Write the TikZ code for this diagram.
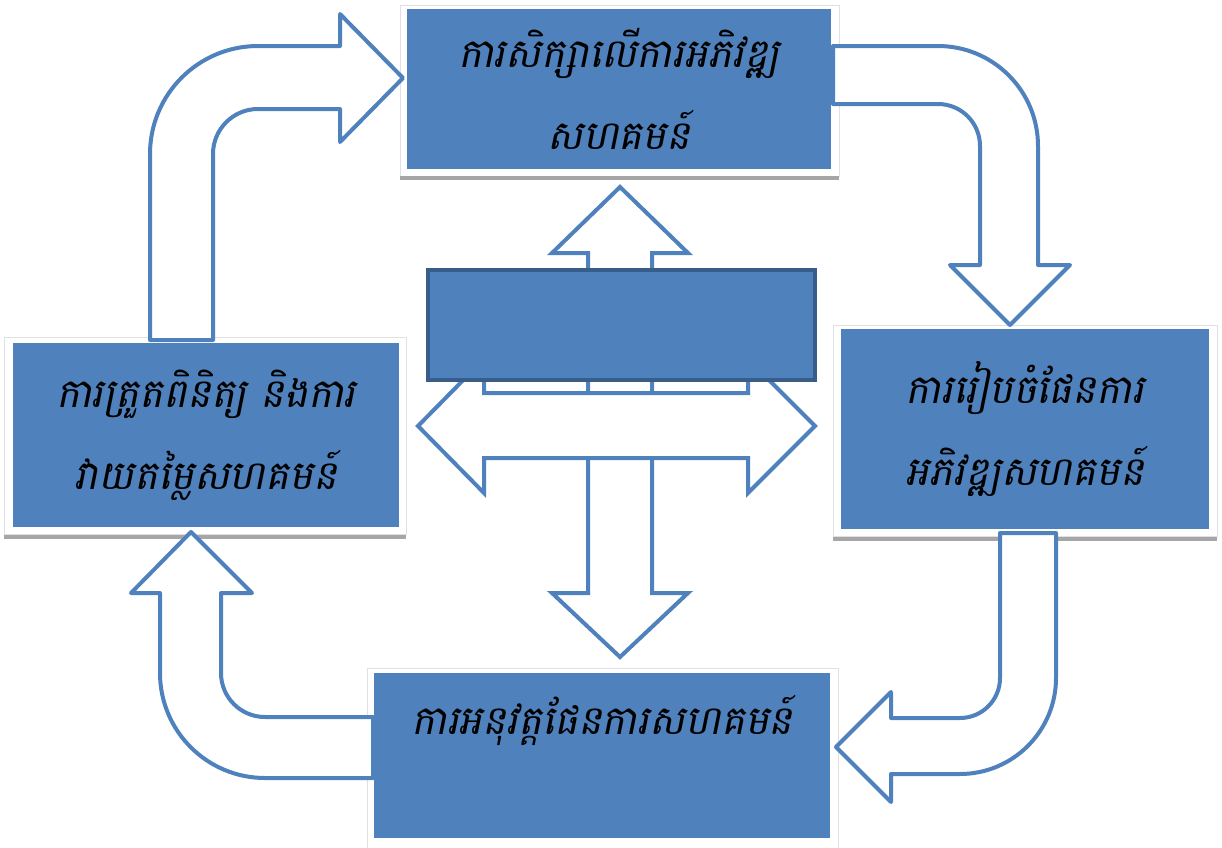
\documentclass[tikz,border=0pt]{standalone}
\usepackage{fontspec}
\newfontfamily\khmerfont[Script=Khmer,FakeSlant=0.2]{Battambang}
\definecolor{boxblue}{HTML}{4F81BD}
\definecolor{edgeblue}{HTML}{385D8A}
\begin{document}
\begin{tikzpicture}[
  x=0.5pt, y=-0.5pt,
  block/.style={rectangle, fill=boxblue, inner sep=0pt, align=center, font=\khmerfont\fontsize{20}{41}\selectfont},
  frame/.style={draw=black!12, fill=white, line width=0.4pt},
  shadow/.style={draw=black!35, line width=1.6pt},
  barrow/.style={draw=boxblue, fill=white, line width=2pt, line join=round},
  xarrow/.style={draw=boxblue, fill=white, line width=2pt}
]
\useasboundingbox (0,0) rectangle (1222,847);

% white frames with a grey edge below
\draw[frame] (400,5) rectangle (839,176);
\draw[shadow] (400,178) -- (839,178);
\draw[frame] (4,337) rectangle (406,534);
\draw[shadow] (4,537) -- (406,537);
\draw[frame] (833,325) rectangle (1217,536);
\draw[shadow] (833,539) -- (1217,539);
\draw[frame] (367,668) rectangle (838,850);

\node[block, minimum width=212pt, minimum height=80pt] (study) at (619,89) {ការសិក្សាលើការអភិវឌ្ឍ\\សហគមន៍};
\node[block, minimum width=193pt, minimum height=92pt] (check) at (206,435) {ការត្រួតពិនិត្យ និងការ\\វាយតម្លៃសហគមន៍};
\node[block, minimum width=184pt, minimum height=100pt] (plan) at (1025,429) {ការរៀបចំផែនការ\\អភិវឌ្ឍសហគមន៍};
\node[block, minimum width=228pt, minimum height=82.5pt] (apply) at (602,755.5) {ការអនុវត្តផែនការសហគមន៍\\\mbox{}};

% bent arrows round the cycle
\draw[barrow] (150,340) -- (150,154) arc[start angle=180, end angle=270, radius=108]
  -- (340,46) -- (340,14) -- (403,78) -- (340,142) -- (340,109) -- (258,109)
  arc[start angle=270, end angle=180, radius=45] -- (213,340) -- cycle;
\draw[barrow] (833,46) -- (938,46) arc[start angle=270, end angle=360, radius=100]
  -- (1038,265) -- (1070,265) -- (1010,325) -- (950,265) -- (980,265) -- (980,146)
  arc[start angle=0, end angle=-90, radius=42] -- (833,104) -- cycle;
\draw[barrow] (1000,533) -- (1056,533) -- (1056,678) arc[start angle=0, end angle=90, radius=96]
  -- (891,774) -- (891,802) -- (836,747) -- (891,692) -- (891,718) -- (960,718)
  arc[start angle=90, end angle=0, radius=40] -- cycle;
\draw[barrow] (373,717) -- (265,717) arc[start angle=90, end angle=180, radius=44]
  -- (221,593) -- (252,593) -- (191,532) -- (131,593) -- (160,593) -- (160,673)
  arc[start angle=180, end angle=90, radius=105] -- (373,778) -- cycle;

% cross arrows behind the middle box
\draw[xarrow] (620,187) -- (688,253) -- (652,253) -- (652,593) -- (688,593) -- (620,657)
  -- (552,593) -- (588,593) -- (588,253) -- (552,253) -- cycle;
\draw[xarrow] (418,426) -- (484,359) -- (484,393) -- (748,393) -- (748,359) -- (815,426)
  -- (748,493) -- (748,458) -- (484,458) -- (484,493) -- cycle;
\node[block, draw=edgeblue, line width=2pt, minimum width=193.5pt, minimum height=55pt] (core) at (621.5,325) {};
\end{tikzpicture}
\end{document}
